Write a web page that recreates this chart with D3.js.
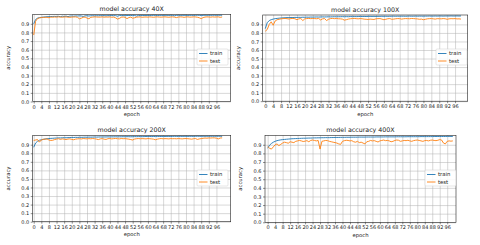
<html>
<head>
  <script src="https://d3js.org/d3.v7.min.js"></script>
  <style>
  body { margin: 0; background: #fff; }
  svg text { font-family: "DejaVu Sans", sans-serif; fill: #222; }
  .grid line { stroke: #b0b0b0; stroke-width: 0.5; }
  .axis path { display: none; }
  .axis line { stroke: #222; stroke-width: 0.5; }
  .axis text { font-size: 5px; }
  </style>
</head>
<body>
  <svg id="chart" width="480" height="245"></svg>
  <script>

var titles = ["model accuracy 40X", "model accuracy 100X", "model accuracy 200X", "model accuracy 400X"];
var seriesNames = ["train", "test"];
var seriesColors = ["#1f77b4", "#ff7f0e"];
var xTicks = d3.range(0, 100, 4);
var yTicks = [0, 0.1, 0.2, 0.3, 0.4, 0.5, 0.6, 0.7, 0.8, 0.9];

var train40 = [0.90,0.95,0.965,0.972,0.975,0.978,0.98,0.982,0.983,0.984,
0.985,0.986,0.984,0.987,0.982,0.988,0.985,0.989,0.983,0.989,
0.990,0.988,0.991,0.990,0.992,0.991,0.985,0.992,0.993,0.990,
0.993,0.994,0.992,0.994,0.993,0.995,0.994,0.995,0.993,0.995,
0.995,0.996,0.994,0.995,0.988,0.996,0.995,0.996,0.994,0.996,
0.996,0.997,0.995,0.996,0.990,0.997,0.996,0.997,0.996,0.997,
0.997,0.996,0.997,0.998,0.997,0.996,0.997,0.998,0.997,0.998,
0.998,0.997,0.998,0.997,0.993,0.998,0.998,0.997,0.998,0.998,
0.998,0.997,0.998,0.998,0.997,0.998,0.999,0.998,0.996,0.998,
0.999,0.998,0.999,0.998,0.999,0.999,0.998,0.999,0.999,0.999];
var test40 = [0.77,0.93,0.96,0.968,0.972,0.974,0.975,0.976,0.97,0.978,
0.976,0.979,0.977,0.98,0.978,0.976,0.979,0.98,0.977,0.975,
0.978,0.979,0.98,0.975,0.958,0.965,0.975,0.978,0.966,0.958,
0.975,0.978,0.98,0.979,0.977,0.978,0.98,0.977,0.979,0.978,
0.98,0.976,0.978,0.97,0.955,0.962,0.976,0.979,0.975,0.96,
0.972,0.978,0.965,0.97,0.977,0.979,0.98,0.976,0.978,0.979,
0.977,0.98,0.978,0.976,0.979,0.98,0.978,0.977,0.979,0.98,
0.978,0.976,0.979,0.98,0.977,0.972,0.978,0.98,0.979,0.975,
0.979,0.98,0.977,0.978,0.98,0.979,0.976,0.97,0.96,0.972,
0.978,0.98,0.979,0.977,0.98,0.978,0.979,0.98,0.975,0.979];

var train100 = [0.85,0.92,0.945,0.955,0.962,0.967,0.97,0.973,0.975,0.977,
0.978,0.98,0.979,0.981,0.98,0.982,0.981,0.983,0.982,0.984,
0.983,0.985,0.984,0.986,0.985,0.986,0.987,0.986,0.987,0.988,
0.987,0.988,0.989,0.988,0.989,0.99,0.989,0.99,0.99,0.991,
0.99,0.991,0.99,0.992,0.991,0.992,0.991,0.992,0.993,0.992,
0.993,0.992,0.993,0.994,0.993,0.994,0.993,0.994,0.994,0.995,
0.994,0.995,0.994,0.995,0.995,0.996,0.995,0.996,0.995,0.996,
0.996,0.995,0.996,0.997,0.996,0.996,0.997,0.996,0.997,0.997,
0.996,0.997,0.997,0.998,0.997,0.997,0.998,0.997,0.998,0.998,
0.997,0.998,0.998,0.998,0.999,0.998,0.998,0.999,0.998,0.999];
var test100 = [0.82,0.84,0.90,0.93,0.89,0.94,0.955,0.96,0.965,0.968,
0.97,0.967,0.963,0.968,0.97,0.966,0.955,0.965,0.968,0.945,
0.965,0.968,0.97,0.967,0.969,0.968,0.966,0.97,0.952,0.965,
0.968,0.945,0.96,0.968,0.97,0.967,0.969,0.966,0.965,0.962,
0.95,0.955,0.962,0.966,0.968,0.97,0.967,0.965,0.968,0.966,
0.962,0.96,0.958,0.962,0.96,0.958,0.965,0.967,0.968,0.962,
0.955,0.96,0.966,0.968,0.96,0.962,0.966,0.968,0.967,0.962,
0.966,0.968,0.967,0.966,0.969,0.968,0.966,0.964,0.96,0.962,
0.955,0.96,0.965,0.967,0.968,0.965,0.962,0.967,0.966,0.965,
0.968,0.966,0.96,0.965,0.967,0.966,0.968,0.964,0.965,0.962];

var train200 = [0.87,0.92,0.94,0.952,0.958,0.963,0.967,0.97,0.972,0.974,
0.975,0.977,0.978,0.98,0.979,0.981,0.982,0.981,0.983,0.984,
0.985,0.984,0.986,0.985,0.987,0.986,0.987,0.988,0.987,0.989,
0.988,0.989,0.99,0.989,0.99,0.991,0.99,0.991,0.991,0.992,
0.991,0.992,0.992,0.993,0.992,0.993,0.993,0.994,0.993,0.994,
0.994,0.993,0.994,0.995,0.994,0.995,0.995,0.994,0.995,0.996,
0.995,0.996,0.995,0.996,0.996,0.997,0.996,0.996,0.997,0.996,
0.997,0.997,0.996,0.997,0.998,0.997,0.997,0.998,0.997,0.998,
0.998,0.997,0.998,0.998,0.997,0.998,0.999,0.998,0.998,0.999,
0.998,0.999,0.998,0.999,0.999,0.998,0.999,0.999,0.999,0.998];
var test200 = [0.95,0.955,0.96,0.93,0.955,0.962,0.965,0.968,0.955,0.95,
0.952,0.96,0.965,0.97,0.962,0.968,0.965,0.96,0.966,0.968,
0.962,0.958,0.965,0.968,0.97,0.967,0.972,0.97,0.968,0.971,
0.969,0.972,0.97,0.965,0.96,0.968,0.971,0.965,0.962,0.97,
0.972,0.968,0.971,0.973,0.97,0.968,0.972,0.97,0.971,0.968,
0.965,0.96,0.955,0.966,0.97,0.972,0.969,0.971,0.97,0.968,
0.972,0.97,0.968,0.965,0.958,0.965,0.97,0.972,0.969,0.971,
0.97,0.968,0.972,0.97,0.971,0.969,0.972,0.97,0.968,0.971,
0.972,0.97,0.968,0.965,0.97,0.972,0.962,0.968,0.971,0.975,
0.978,0.976,0.979,0.978,0.98,0.98,0.976,0.968,0.978,0.98];

var train400 = [0.86,0.895,0.915,0.93,0.94,0.948,0.953,0.957,0.96,0.962,
0.964,0.966,0.968,0.97,0.971,0.972,0.973,0.974,0.975,0.976,
0.976,0.977,0.978,0.978,0.979,0.98,0.98,0.981,0.981,0.982,
0.982,0.983,0.983,0.983,0.984,0.984,0.985,0.985,0.985,0.986,
0.986,0.986,0.987,0.987,0.987,0.988,0.988,0.988,0.988,0.989,
0.989,0.989,0.989,0.99,0.99,0.99,0.99,0.99,0.991,0.991,
0.991,0.991,0.991,0.992,0.992,0.992,0.992,0.992,0.992,0.993,
0.993,0.993,0.993,0.993,0.993,0.994,0.994,0.994,0.994,0.994,
0.994,0.994,0.995,0.995,0.995,0.995,0.995,0.995,0.995,0.996,
0.996,0.996,0.996,0.996,0.996,0.996,0.997,0.997,0.997,0.997];
var test400 = [0.88,0.86,0.85,0.875,0.90,0.91,0.89,0.905,0.92,0.93,
0.925,0.918,0.935,0.93,0.925,0.94,0.945,0.95,0.945,0.938,
0.942,0.948,0.935,0.95,0.955,0.95,0.945,0.95,0.85,0.94,
0.945,0.95,0.948,0.94,0.935,0.93,0.925,0.92,0.91,0.905,
0.94,0.948,0.952,0.95,0.945,0.948,0.935,0.93,0.94,0.925,
0.93,0.92,0.91,0.935,0.94,0.95,0.945,0.948,0.94,0.932,
0.945,0.95,0.955,0.948,0.95,0.945,0.935,0.94,0.95,0.955,
0.952,0.94,0.945,0.95,0.948,0.952,0.945,0.94,0.948,0.952,
0.955,0.95,0.945,0.94,0.948,0.95,0.945,0.952,0.955,0.95,
0.948,0.952,0.96,0.955,0.92,0.91,0.94,0.945,0.942,0.945];

var trainSets = [train40, train100, train200, train400];
var testSets = [test40, test100, test200, test400];

// plot boxes and x ranges
var panels = [
  {left: 32.7, top: 14.3, right: 230.7, bottom: 101.5, x0: -0.53, x1: 103.5, legX: 197, legY: 49},
  {left: 262.7, top: 15, right: 467.7, bottom: 101.2, x0: -1.3, x1: 102.4, legX: 436, legY: 49},
  {left: 32.7, top: 135.3, right: 230.7, bottom: 221.7, x0: -0.53, x1: 103.5, legX: 197, legY: 170},
  {left: 265, top: 135.3, right: 456, bottom: 222.3, x0: -1.43, x1: 100.7, legX: 425, legY: 170}
];

var svg = d3.select("#chart");

panels.forEach(function(p, i) {
  var x = d3.scaleLinear().domain([p.x0, p.x1]).range([p.left, p.right]);
  var y = d3.scaleLinear().domain([0, 1.01]).range([p.bottom, p.top]);
  var g = svg.append("g");

  g.append("g")
    .attr("class", "grid")
    .attr("transform", "translate(0," + p.bottom + ")")
    .call(d3.axisBottom(x).tickValues(xTicks).tickSize(-(p.bottom - p.top)).tickFormat(""))
    .select(".domain").remove();
  g.append("g")
    .attr("class", "grid")
    .attr("transform", "translate(" + p.left + ",0)")
    .call(d3.axisLeft(y).tickValues(yTicks).tickSize(-(p.right - p.left)).tickFormat(""))
    .select(".domain").remove();

  g.append("g")
    .attr("class", "axis")
    .attr("transform", "translate(0," + p.bottom + ")")
    .call(d3.axisBottom(x).tickValues(xTicks).tickSize(2).tickPadding(1.5));
  g.append("g")
    .attr("class", "axis")
    .attr("transform", "translate(" + p.left + ",0)")
    .call(d3.axisLeft(y).tickValues(yTicks).tickSize(2).tickPadding(1.5).tickFormat(d3.format(".1f")));

  var line = d3.line()
    .x(function(d, j) { return x(j); })
    .y(function(d) { return y(d); });

  [trainSets[i], testSets[i]].forEach(function(s, k) {
    g.append("path")
      .datum(s)
      .attr("fill", "none")
      .attr("stroke", seriesColors[k])
      .attr("stroke-width", 0.9)
      .attr("d", line);
  });

  g.append("rect")
    .attr("x", p.left).attr("y", p.top)
    .attr("width", p.right - p.left).attr("height", p.bottom - p.top)
    .attr("fill", "none").attr("stroke", "#222").attr("stroke-width", 0.6);

  g.append("text")
    .attr("x", (p.left + p.right) / 2).attr("y", p.top - 3)
    .attr("text-anchor", "middle").style("font-size", "6.3px")
    .text(titles[i]);

  g.append("text")
    .attr("x", (p.left + p.right) / 2).attr("y", p.bottom + 14.5)
    .attr("text-anchor", "middle").style("font-size", "5.3px")
    .text("epoch");

  g.append("text")
    .attr("transform", "translate(" + (p.left - 23) + "," + ((p.top + p.bottom) / 2) + ") rotate(-90)")
    .attr("text-anchor", "middle").style("font-size", "5.3px")
    .text("accuracy");

  var leg = g.append("g").attr("transform", "translate(" + p.legX + "," + p.legY + ")");
  leg.append("rect")
    .attr("width", 31).attr("height", 16).attr("rx", 1)
    .attr("fill", "#fff").attr("fill-opacity", 0.85)
    .attr("stroke", "#ccc").attr("stroke-width", 0.5);
  seriesNames.forEach(function(n, k) {
    leg.append("line")
      .attr("x1", 2).attr("x2", 10.5)
      .attr("y1", 4.5 + k * 7.5).attr("y2", 4.5 + k * 7.5)
      .attr("stroke", seriesColors[k]).attr("stroke-width", 0.9);
    leg.append("text")
      .attr("x", 13).attr("y", 6.3 + k * 7.5)
      .style("font-size", "5.3px")
      .text(n);
  });
});

  </script>
</body>
</html>
